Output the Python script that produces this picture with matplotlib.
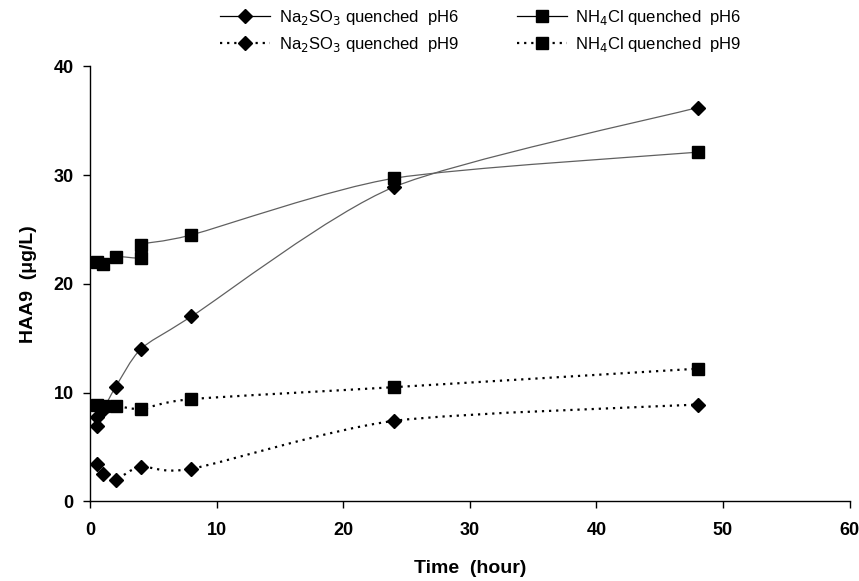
import matplotlib
matplotlib.use("Agg")
import matplotlib.pyplot as plt
from matplotlib.path import Path
from matplotlib.patches import PathPatch
from matplotlib.lines import Line2D
import numpy as np

plt.rcParams['font.family'] = ['Liberation Sans', 'DejaVu Sans']

# ---- data ----
t_na_ph6 = [0.5, 0.5, 1, 2, 4, 8, 24, 48]
na_ph6 = [6.9, 7.8, 8.4, 10.5, 14.0, 17.0, 28.9, 36.2]

t_nh4_ph6 = [0.5, 1, 2, 4, 4, 8, 24, 48]
nh4_ph6 = [22.0, 21.8, 22.5, 22.4, 23.6, 24.5, 29.7, 32.1]

t_na_ph9 = [0.5, 1, 2, 4, 8, 24, 48]
na_ph9 = [3.4, 2.5, 2.0, 3.2, 3.0, 7.4, 8.9]

t_nh4_ph9 = [0.5, 1, 2, 4, 8, 24, 48]
nh4_ph9 = [8.9, 8.8, 8.8, 8.5, 9.4, 10.5, 12.2]

labels = ["Na$_2$SO$_3$ quenched  pH6", "Na$_2$SO$_3$ quenched  pH9",
          "NH$_4$Cl quenched  pH6", "NH$_4$Cl quenched  pH9"]

fig = plt.figure(figsize=(8.59, 5.81), dpi=100)
ax = fig.add_axes([0.105, 0.137, 0.884, 0.749])


def smooth_path(x, y):
    """Excel-like smoothed line: cubic Bezier through the data points."""
    P = np.column_stack([x, y]).astype(float)
    n = len(P)
    verts = [P[0]]
    codes = [Path.MOVETO]
    for i in range(n - 1):
        p0 = P[i - 1] if i > 0 else P[i]
        p1 = P[i]
        p2 = P[i + 1]
        p3 = P[i + 2] if i + 2 < n else P[i + 1]
        c1 = p1 + (p2 - p0) / 8.0
        c2 = p2 - (p3 - p1) / 8.0
        verts += [c1, c2, p2]
        codes += [Path.CURVE4] * 3
    return Path(verts, codes)


line_col = '#606060'
dots = (0, (1, 2.2))
series = [
    (t_na_ph6, na_ph6, 'D', '-', 7),
    (t_na_ph9, na_ph9, 'D', ':', 7),
    (t_nh4_ph6, nh4_ph6, 's', '-', 8),
    (t_nh4_ph9, nh4_ph9, 's', ':', 8),
]
handles = []
for (x, y, mk, ls, ms), lab in zip(series, labels):
    if ls == '-':
        patch = PathPatch(smooth_path(x, y), fill=False, edgecolor=line_col,
                          linewidth=0.9, zorder=2)
        h = Line2D([], [], color='black', linewidth=0.9, marker=mk,
                   markersize=ms)
    else:
        patch = PathPatch(smooth_path(x, y), fill=False, edgecolor='black',
                          linewidth=1.6, linestyle=dots, zorder=2)
        h = Line2D([], [], color='black', linewidth=1.6, linestyle=dots,
                   marker=mk, markersize=ms)
    ax.add_patch(patch)
    ax.plot(x, y, linestyle='none', marker=mk, markersize=ms, color='black',
            zorder=3)
    handles.append(h)

ax.set_xlim(0, 60)
ax.set_ylim(0, 40)
ax.set_xticks(range(0, 61, 10))
ax.set_yticks(range(0, 41, 10))
for s in ['top', 'right']:
    ax.spines[s].set_visible(False)
for s in ['left', 'bottom']:
    ax.spines[s].set_linewidth(1.0)
ax.tick_params(direction='out', length=5, width=1.0, labelsize=13)
ax.tick_params(axis='x', pad=10)
ax.tick_params(axis='y', pad=7)
for lbl in ax.get_xticklabels() + ax.get_yticklabels():
    lbl.set_fontweight('bold')
ax.set_xlabel("Time  (hour)", fontsize=14, fontweight='bold', labelpad=15)
ax.set_ylabel("HAA9  (μg/L)", fontsize=14, fontweight='bold', labelpad=12)

fig.legend(handles, labels, ncol=2, loc='upper center',
           bbox_to_anchor=(0.56, 1.012), frameon=False, fontsize=12,
           handlelength=3.0, columnspacing=3.5, labelspacing=0.45,
           handletextpad=0.5)

fig.savefig("out.png", dpi=100)
